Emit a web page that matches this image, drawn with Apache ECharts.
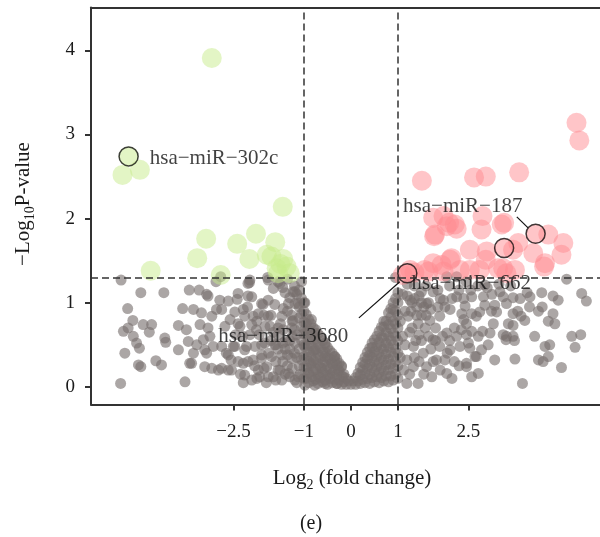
<!DOCTYPE html>
<html>
<head>
<meta charset="utf-8">
<script src="https://cdn.jsdelivr.net/npm/echarts@6/dist/echarts.min.js"></script>
<style>
  html, body { margin: 0; padding: 0; background: #fff; }
  #chart { width: 600px; height: 537px; }
</style>
</head>
<body>
<div id="chart"></div>
<script>
// log2 fold change, -log10 p-value
var greyPoints = [
  [-4.89,1.27],[-4.47,1.12],[-3.98,1.12],[-3.44,1.15],[-3.23,1.15],[-3.07,1.10],[-4.75,0.93],[-4.64,0.79],
  [-4.84,0.66],[-4.74,0.70],[-4.63,0.60],[-4.56,0.52],[-4.50,0.46],[-4.42,0.74],[-4.24,0.74],[-4.29,0.65],
  [-3.96,0.58],[-3.94,0.53],[-4.81,0.40],[-4.15,0.31],[-4.03,0.26],[-4.52,0.26],[-4.47,0.24],[-4.90,0.04],
  [-3.53,0.06],[-3.58,0.93],[-3.35,0.92],[-3.18,0.88],[-2.96,0.84],[-3.67,0.73],[-3.50,0.68],[-3.21,0.74],
  [-3.04,0.70],[-3.46,0.54],[-3.67,0.44],[-3.35,0.40],[-3.28,0.50],[-3.14,0.56],[-3.00,0.60],[-3.11,0.44],
  [-2.93,0.48],[-3.43,0.28],[-3.11,0.24],[-2.96,0.22],[-2.82,0.20],[-2.79,1.03],[-2.86,0.92],
  [-3.04,1.08],[-2.42,1.04],[-2.16,1.24],[-2.87,1.25],[-2.19,1.08],[-1.87,0.98],[-1.76,1.03],[-1.65,1.17],
  [-1.76,1.27],[-1.51,1.23],[-1.23,1.13],[-1.19,0.99],[-2.57,0.80],[-2.29,0.92],[-2.08,0.84],[-2.36,0.72],
  [-2.01,0.68],[-1.72,0.72],[-1.44,0.68],[-1.23,0.79],[-3.07,0.40],[-2.65,0.40],[-2.50,0.48],[-2.22,0.48],
  [-2.08,0.32],[-2.29,0.28],[-1.79,0.24],[-1.51,0.20],[-1.30,0.12],[-1.94,0.12],[-2.29,0.05],[-3.39,0.28],
  [-2.61,0.20],[-2.77,1.31],[-2.15,1.27],[-1.77,1.30],
  [-2.19,1.23],[-1.55,1.25],[-1.19,1.13],[-1.33,0.99],[-1.12,0.99],[-1.44,0.93],[-1.62,0.98],[-1.90,0.99],
  [-2.11,1.07],[-2.40,1.11],[-2.61,1.02],[-2.75,0.92],[-2.47,0.89],[-2.26,0.84],[-1.97,0.87],[-1.76,0.84],
  [-1.47,0.84],[-1.26,0.85],[-1.05,0.87],[-0.84,0.80],[-2.68,0.72],[-2.40,0.75],[-2.11,0.74],[-1.83,0.72],
  [-1.55,0.70],[-1.26,0.70],[-0.98,0.68],[-0.77,0.64],[-0.55,0.50],[-0.34,0.36],[-0.20,0.25],[-2.75,0.48],
  [-2.47,0.48],[-2.61,0.38],[-2.26,0.44],[-2.04,0.48],[-1.83,0.52],[-1.62,0.50],[-1.40,0.54],[-1.19,0.52],
  [-0.98,0.48],[-0.77,0.44],[-0.55,0.36],[-0.41,0.28],[-0.27,0.20],[-0.16,0.12],[-2.19,0.30],[-1.90,0.34],
  [-1.69,0.36],[-1.47,0.38],[-1.26,0.34],[-1.05,0.32],[-0.84,0.28],[-0.62,0.22],[-0.45,0.14],[-0.30,0.04],
  [-2.75,0.22],[-2.54,0.20],[-2.26,0.14],[-1.97,0.20],[-1.76,0.12],[-1.55,0.20],[-1.33,0.16],[-1.12,0.12],
  [-0.91,0.16],[-0.70,0.12],[-0.55,0.04],[-0.77,0.02],[-0.98,0.02],[-1.19,0.08],[-1.47,0.08],[-2.11,0.08],
  [-1.15,1.10],[-1.05,1.05],[-1.10,0.95],[-0.98,1.00],[-1.35,1.28],[-1.20,1.20],[-1.05,1.25],[-1.10,1.15],
  [-1.45,1.18],[-1.30,1.06],[-1.40,1.12],
  [-1.10,0.25],[-1.20,0.40],[-1.30,0.55],[-1.15,0.62],[-1.35,0.25],[-1.40,0.45],[-1.60,0.30],[-1.70,0.55],
  [-1.25,0.78],[-1.55,0.62],[-1.90,0.50],[-1.10,0.45],[-1.05,0.72],[-1.65,0.12],[-1.85,0.22],[-2.30,0.60],
  [-2.00,0.10],[-2.40,0.30],
  [-1.15,0.05],[-1.25,0.22],[-1.35,0.38],[-1.45,0.52],[-1.55,0.45],[-1.65,0.65],[-1.75,0.40],[-1.85,0.85],
  [-1.95,0.62],[-2.05,0.25],[-2.15,0.62],[-2.35,0.15],[-2.45,0.62],[-2.55,0.32],[-1.15,0.35],[-1.25,0.60],
  [-1.35,0.90],[-1.45,0.30],[-1.60,0.08],[-1.70,0.85],[-1.80,0.05],[-1.90,0.38],[-2.00,0.78],[-2.20,0.95],
  [-1.10,0.82],[-1.20,0.68],[-1.30,0.45],[-1.40,0.15],[-1.50,0.75],[-1.60,0.50],[-1.05,0.55],[-1.08,0.15],
  [-0.10,0.03],[-0.10,0.10],[-0.15,0.06],[-0.15,0.15],
  [-0.20,0.03],[-0.20,0.13],[-0.20,0.24],[-0.25,0.08],[-0.25,0.19],[-0.25,0.28],
  [-0.30,0.04],[-0.30,0.15],[-0.30,0.26],[-0.30,0.33],[-0.35,0.09],[-0.35,0.20],[-0.35,0.31],[-0.35,0.36],
  [-0.40,0.05],[-0.40,0.16],[-0.40,0.28],[-0.40,0.40],[-0.45,0.10],[-0.45,0.21],[-0.45,0.33],[-0.45,0.43],
  [-0.50,0.03],[-0.50,0.13],[-0.50,0.24],[-0.50,0.35],[-0.50,0.47],[-0.55,0.08],[-0.55,0.19],[-0.55,0.30],
  [-0.55,0.41],[-0.55,0.52],
  [-0.60,0.06],[-0.60,0.17],[-0.60,0.29],[-0.60,0.41],[-0.60,0.55],[-0.65,0.11],[-0.65,0.23],[-0.65,0.35],
  [-0.65,0.47],[-0.65,0.60],
  [-0.70,0.04],[-0.70,0.15],[-0.70,0.27],[-0.70,0.39],[-0.70,0.51],[-0.70,0.63],[-0.75,0.09],[-0.75,0.21],
  [-0.75,0.33],[-0.75,0.45],[-0.75,0.57],[-0.75,0.68],
  [-0.80,0.07],[-0.80,0.19],[-0.80,0.31],[-0.80,0.43],[-0.80,0.56],[-0.80,0.70],[-0.85,0.12],[-0.85,0.25],
  [-0.85,0.37],[-0.85,0.49],[-0.85,0.62],[-0.85,0.75],
  [-0.90,0.05],[-0.90,0.17],[-0.90,0.30],[-0.90,0.42],[-0.90,0.55],[-0.90,0.68],[-0.90,0.80],[-0.95,0.10],
  [-0.95,0.23],[-0.95,0.36],[-0.95,0.49],[-0.95,0.62],[-0.95,0.75],[-0.95,0.86],
  [-1.00,0.10],[-1.00,0.23],[-1.00,0.36],[-1.00,0.50],[-1.00,0.63],[-1.00,0.77],[-1.00,0.90],[-1.00,1.00],
  [0.00,0.03],[0.05,0.07],[-0.05,0.07],
  [0.10,0.03],[0.10,0.11],[0.15,0.07],[0.15,0.16],
  [0.20,0.04],[0.20,0.14],[0.20,0.23],[0.25,0.09],[0.25,0.20],[0.25,0.29],
  [0.30,0.05],[0.30,0.16],[0.30,0.27],[0.30,0.35],[0.35,0.10],[0.35,0.22],[0.35,0.33],[0.35,0.41],
  [0.40,0.04],[0.40,0.15],[0.40,0.27],[0.40,0.38],[0.40,0.46],[0.45,0.11],[0.45,0.23],[0.45,0.35],
  [0.45,0.47],[0.45,0.52],
  [0.50,0.06],[0.50,0.18],[0.50,0.30],[0.50,0.42],[0.50,0.56],[0.55,0.12],[0.55,0.24],[0.55,0.36],
  [0.55,0.48],[0.55,0.60],
  [0.60,0.05],[0.60,0.17],[0.60,0.29],[0.60,0.41],[0.60,0.53],[0.60,0.66],[0.65,0.11],[0.65,0.23],
  [0.65,0.35],[0.65,0.47],[0.65,0.59],[0.65,0.71],
  [0.70,0.07],[0.70,0.19],[0.70,0.32],[0.70,0.45],[0.70,0.58],[0.70,0.71],[0.70,0.78],[0.75,0.13],
  [0.75,0.26],[0.75,0.39],[0.75,0.52],[0.75,0.65],[0.75,0.78],
  [0.80,0.06],[0.80,0.20],[0.80,0.33],[0.80,0.47],[0.80,0.60],[0.80,0.74],[0.80,0.88],[0.85,0.13],
  [0.85,0.27],[0.85,0.41],[0.85,0.55],[0.85,0.69],[0.85,0.83],[0.85,0.93],
  [0.90,0.08],[0.90,0.22],[0.90,0.36],[0.90,0.50],[0.90,0.64],[0.90,0.78],[0.90,0.92],[0.90,1.00],
  [0.95,0.15],[0.95,0.30],[0.95,0.45],[0.95,0.60],[0.95,0.75],[0.95,0.90],[0.95,1.05],
  [1.00,0.10],[1.00,0.25],[1.00,0.40],[1.00,0.55],[1.00,0.70],[1.00,0.85],[1.00,1.00],[1.00,1.12],
  [0.95,1.30],
  [1.10,0.60],[1.15,0.90],[1.30,0.70],[1.40,0.95],[1.50,0.55],[1.60,0.85],[1.80,0.70],[1.90,0.20],
  [2.00,0.95],[2.20,0.70],[2.30,0.25],[1.25,0.15],[1.45,0.30],[1.70,0.45],[2.10,0.55],[2.40,0.80],
  [1.10,1.10],[1.35,1.20],[1.60,1.20],[1.85,1.15],[2.10,1.20],[2.30,1.15],[1.20,1.22],[1.50,1.00],
  [1.30,1.00],[1.40,0.85],[1.65,1.00],[1.35,1.05],[1.55,0.95],[1.45,1.08],
  [1.05,0.35],[1.15,0.50],[1.25,0.65],[1.35,0.35],[1.45,0.62],[1.55,0.15],[1.65,0.60],[1.75,0.30],
  [1.85,0.95],[1.95,0.60],[2.05,0.40],[2.15,0.10],[2.20,0.30],[2.35,0.68],[2.40,1.05],[1.12,0.20],
  [1.28,0.90],[1.38,0.55],[1.58,0.70],[1.70,0.92],[1.90,1.05],[2.15,1.05],[1.05,0.78],[1.20,1.08],
  [1.50,0.85],[1.80,0.55],
  [2.25,1.07],[1.97,1.03],[1.75,1.13],[1.50,1.13],[1.26,1.03],[1.61,0.99],[1.22,0.84],[1.43,0.75],
  [1.68,0.79],[1.89,0.84],[2.11,0.92],[2.36,0.87],[2.67,0.84],[2.04,0.64],[2.25,0.60],[2.46,0.62],
  [1.75,0.56],[1.89,0.48],[2.11,0.44],[2.32,0.48],[2.53,0.46],[2.67,0.36],[2.46,0.28],[2.04,0.16],
  [1.82,0.32],[1.61,0.24],[1.43,0.04],[1.19,0.04],[1.54,0.40],[1.33,0.48],[1.19,0.32],[1.33,0.24],
  [1.72,0.12],[2.00,0.32],[3.03,0.75],[3.10,0.89],[2.85,0.97],[2.80,0.66],[3.24,0.62],[3.30,0.56],
  [2.04,1.31],[2.25,1.31],[2.85,1.21],[3.17,1.13],[3.45,1.06],[3.81,1.07],
  [2.55,1.15],[2.70,1.20],[2.90,1.18],[3.00,1.10],[2.45,1.25],[3.15,1.22],[3.40,1.20],[3.60,1.05],
  [3.75,1.12],[3.55,0.90],[3.80,0.95],[3.35,0.75],
  [4.59,1.28],[4.06,1.12],[4.30,1.08],[4.41,1.03],[4.91,1.11],[5.01,1.02],[3.99,0.90],[4.07,0.95],
  [4.30,0.87],[4.34,0.75],[4.20,0.78],[3.70,0.79],[3.62,0.84],[3.45,0.87],[3.31,0.99],[3.24,1.07],
  [3.06,0.97],[2.99,0.90],[3.45,0.73],[3.91,0.60],[3.45,0.60],[3.31,0.60],[3.48,0.55],[4.13,0.48],
  [4.23,0.50],[4.20,0.36],[3.99,0.32],[4.09,0.30],[3.49,0.33],[4.48,0.23],[4.70,0.60],[4.89,0.62],
  [4.77,0.47],[3.65,0.04],[3.06,0.32],[2.92,0.50],[2.78,0.44],[2.71,0.60],[2.96,0.64],[2.57,0.66],
  [2.57,0.87],[2.74,0.89],[2.82,1.07],[2.57,1.07],[2.43,0.96],[2.46,0.75],[2.50,0.52],[2.64,0.36],
  [2.57,0.12],[2.71,0.16],[2.46,0.24]
];
var greenPoints = [
  [-4.73,2.74],[-4.86,2.52],[-4.49,2.58],[-2.96,3.91],[-1.45,2.14],[-3.08,1.76],[-3.27,1.53],[-4.26,1.38],
  [-2.42,1.70],[-2.02,1.82],[-2.16,1.52],[-1.61,1.72],[-1.79,1.57],[-1.69,1.55],[-1.44,1.52],[-1.37,1.43],
  [-1.58,1.41],[-2.77,1.33],[-1.55,1.35],[-1.30,1.35],[-1.50,1.46]
];
var redPoints = [
  [4.80,3.14],[4.86,2.93],[1.51,2.45],[2.62,2.49],[2.87,2.50],[3.58,2.55],[1.97,2.03],[2.21,1.93],
  [1.77,1.79],[2.80,2.03],[3.26,1.95],[2.53,1.63],[2.89,1.61],[2.87,1.51],[3.56,1.71],[3.88,1.59],
  [4.20,1.81],[4.52,1.71],[4.48,1.57],[4.11,1.43],[2.14,1.53],[1.93,1.45],[1.57,1.39],[1.26,1.39],
  [3.24,1.41],[3.49,1.39],[2.53,1.39],[1.75,2.01],[2.09,1.95],[1.79,1.81],[2.04,1.91],[2.25,1.88],
  [2.78,1.87],[3.21,1.93],[3.45,1.63],[4.13,1.47],[2.11,1.51],[1.75,1.47],[3.13,1.41],[3.31,1.35],
  [2.74,1.39],[2.32,1.39],[1.97,1.37],[1.65,1.37],[1.35,1.36],[1.10,1.33],[3.93,1.82],[3.26,1.65],
  [1.20,1.35]
];
var markedPoints = [[-4.73,2.74],[3.93,1.82],[3.26,1.65],[1.20,1.35]];
var labelNames = ['hsa\u2212miR\u2212302c','hsa\u2212miR\u2212187','hsa\u2212miR\u2212662','hsa\u2212miR\u22123680'];
var labelAnchors = [[-4.28,2.71],[1.11,2.14],[1.29,1.23],[-2.82,0.60]];
var leaderLines = [[[3.53,2.02],[3.77,1.89]],[[0.17,0.82],[1.04,1.25]]];
var xTicks = [-2.5,-1,0,1,2.5];
var yTicks = [0,1,2,3,4];
var fcCut = [-1,1];
var pCut = 1.3;

var font = 'Liberation Serif';
var ink = '#1a1a1a';
var chart = echarts.init(document.getElementById('chart'));

var fmt = function(v){ return v < 0 ? '\u2212' + Math.abs(v) : String(v); };

var option = {
  animation: false,
  grid: { left: 91, right: 0, top: 7.5, bottom: 132.5 },
  xAxis: [{
    type: 'value', min: -5.53, max: 5.30,
    splitLine: { show: false },
    axisLine: { onZero: false, lineStyle: { color: '#333', width: 2 } },
    axisTick: { length: 6, lineStyle: { color: '#333', width: 2 }, customValues: xTicks },
    axisLabel: { customValues: xTicks, formatter: fmt, margin: 18, color: ink, fontSize: 19, fontFamily: font }
  }, {
    type: 'value', position: 'top', min: -5.53, max: 5.30,
    splitLine: { show: false }, axisTick: { show: false }, axisLabel: { show: false },
    axisLine: { show: true, onZero: false, lineStyle: { color: '#333', width: 2 } }
  }],
  yAxis: {
    type: 'value', min: -0.21, max: 4.51,
    splitLine: { show: false },
    axisLine: { show: true, onZero: false, lineStyle: { color: '#333', width: 2 } },
    axisTick: { show: true, length: 6, lineStyle: { color: '#333', width: 2 }, customValues: yTicks },
    axisLabel: { customValues: yTicks, formatter: fmt, margin: 16, color: ink, fontSize: 19, fontFamily: font }
  },
  graphic: [
    { type: 'text', x: 352, y: 478, style: {
      text: '{a|Log}{s|2}{a| (fold change)}', align: 'center', verticalAlign: 'middle',
      rich: { a: { fontSize: 21, fontFamily: font, fill: ink, lineHeight: 28 },
              s: { fontSize: 14, fontFamily: font, fill: ink, verticalAlign: 'bottom' } } } },
    { type: 'text', x: 23, y: 204, rotation: Math.PI / 2, style: {
      text: '{a|\u2212Log}{s|10}{a|P-value}', align: 'center', verticalAlign: 'middle',
      rich: { a: { fontSize: 21, fontFamily: font, fill: ink, lineHeight: 28 },
              s: { fontSize: 14, fontFamily: font, fill: ink, verticalAlign: 'bottom' } } } },
    { type: 'text', x: 311, y: 524, style: {
      text: '(e)', align: 'center', verticalAlign: 'middle', fontSize: 20, fontFamily: font, fill: ink } }
  ],
  series: [
    {
      type: 'scatter', data: greyPoints, symbolSize: 11, silent: true,
      itemStyle: { color: '#776f6d', opacity: 0.62 },
      markLine: {
        silent: true, symbol: 'none', label: { show: false },
        lineStyle: { color: '#333', width: 1.5, type: [7, 4] },
        data: [{ xAxis: fcCut[0] }, { xAxis: fcCut[1] }, { yAxis: pCut }]
      }
    },
    {
      type: 'scatter', data: greenPoints, symbolSize: 20, silent: true,
      itemStyle: { color: 'rgb(200,236,140)', opacity: 0.5 }
    },
    {
      type: 'scatter', data: redPoints, symbolSize: 20, silent: true,
      itemStyle: { color: 'rgb(255,140,145)', opacity: 0.5 }
    },
    {
      type: 'scatter', data: markedPoints, symbolSize: 19, silent: true,
      itemStyle: { color: 'rgba(0,0,0,0)', borderColor: '#111', borderWidth: 1.5 }
    },
    {
      type: 'scatter', symbolSize: 0, silent: true,
      data: labelAnchors.map(function(p, i){ return { value: p, name: labelNames[i] }; }),
      label: { show: true, position: 'right', distance: 0, formatter: '{b}',
               color: '#111', fontSize: 21, fontFamily: font },
      markLine: {
        silent: true, symbol: 'none', label: { show: false },
        lineStyle: { color: '#111', width: 1.2, type: 'solid' },
        data: leaderLines.map(function(l){ return [{ coord: l[0] }, { coord: l[1] }]; })
      }
    }
  ]
};
chart.setOption(option);
</script>
</body>
</html>
